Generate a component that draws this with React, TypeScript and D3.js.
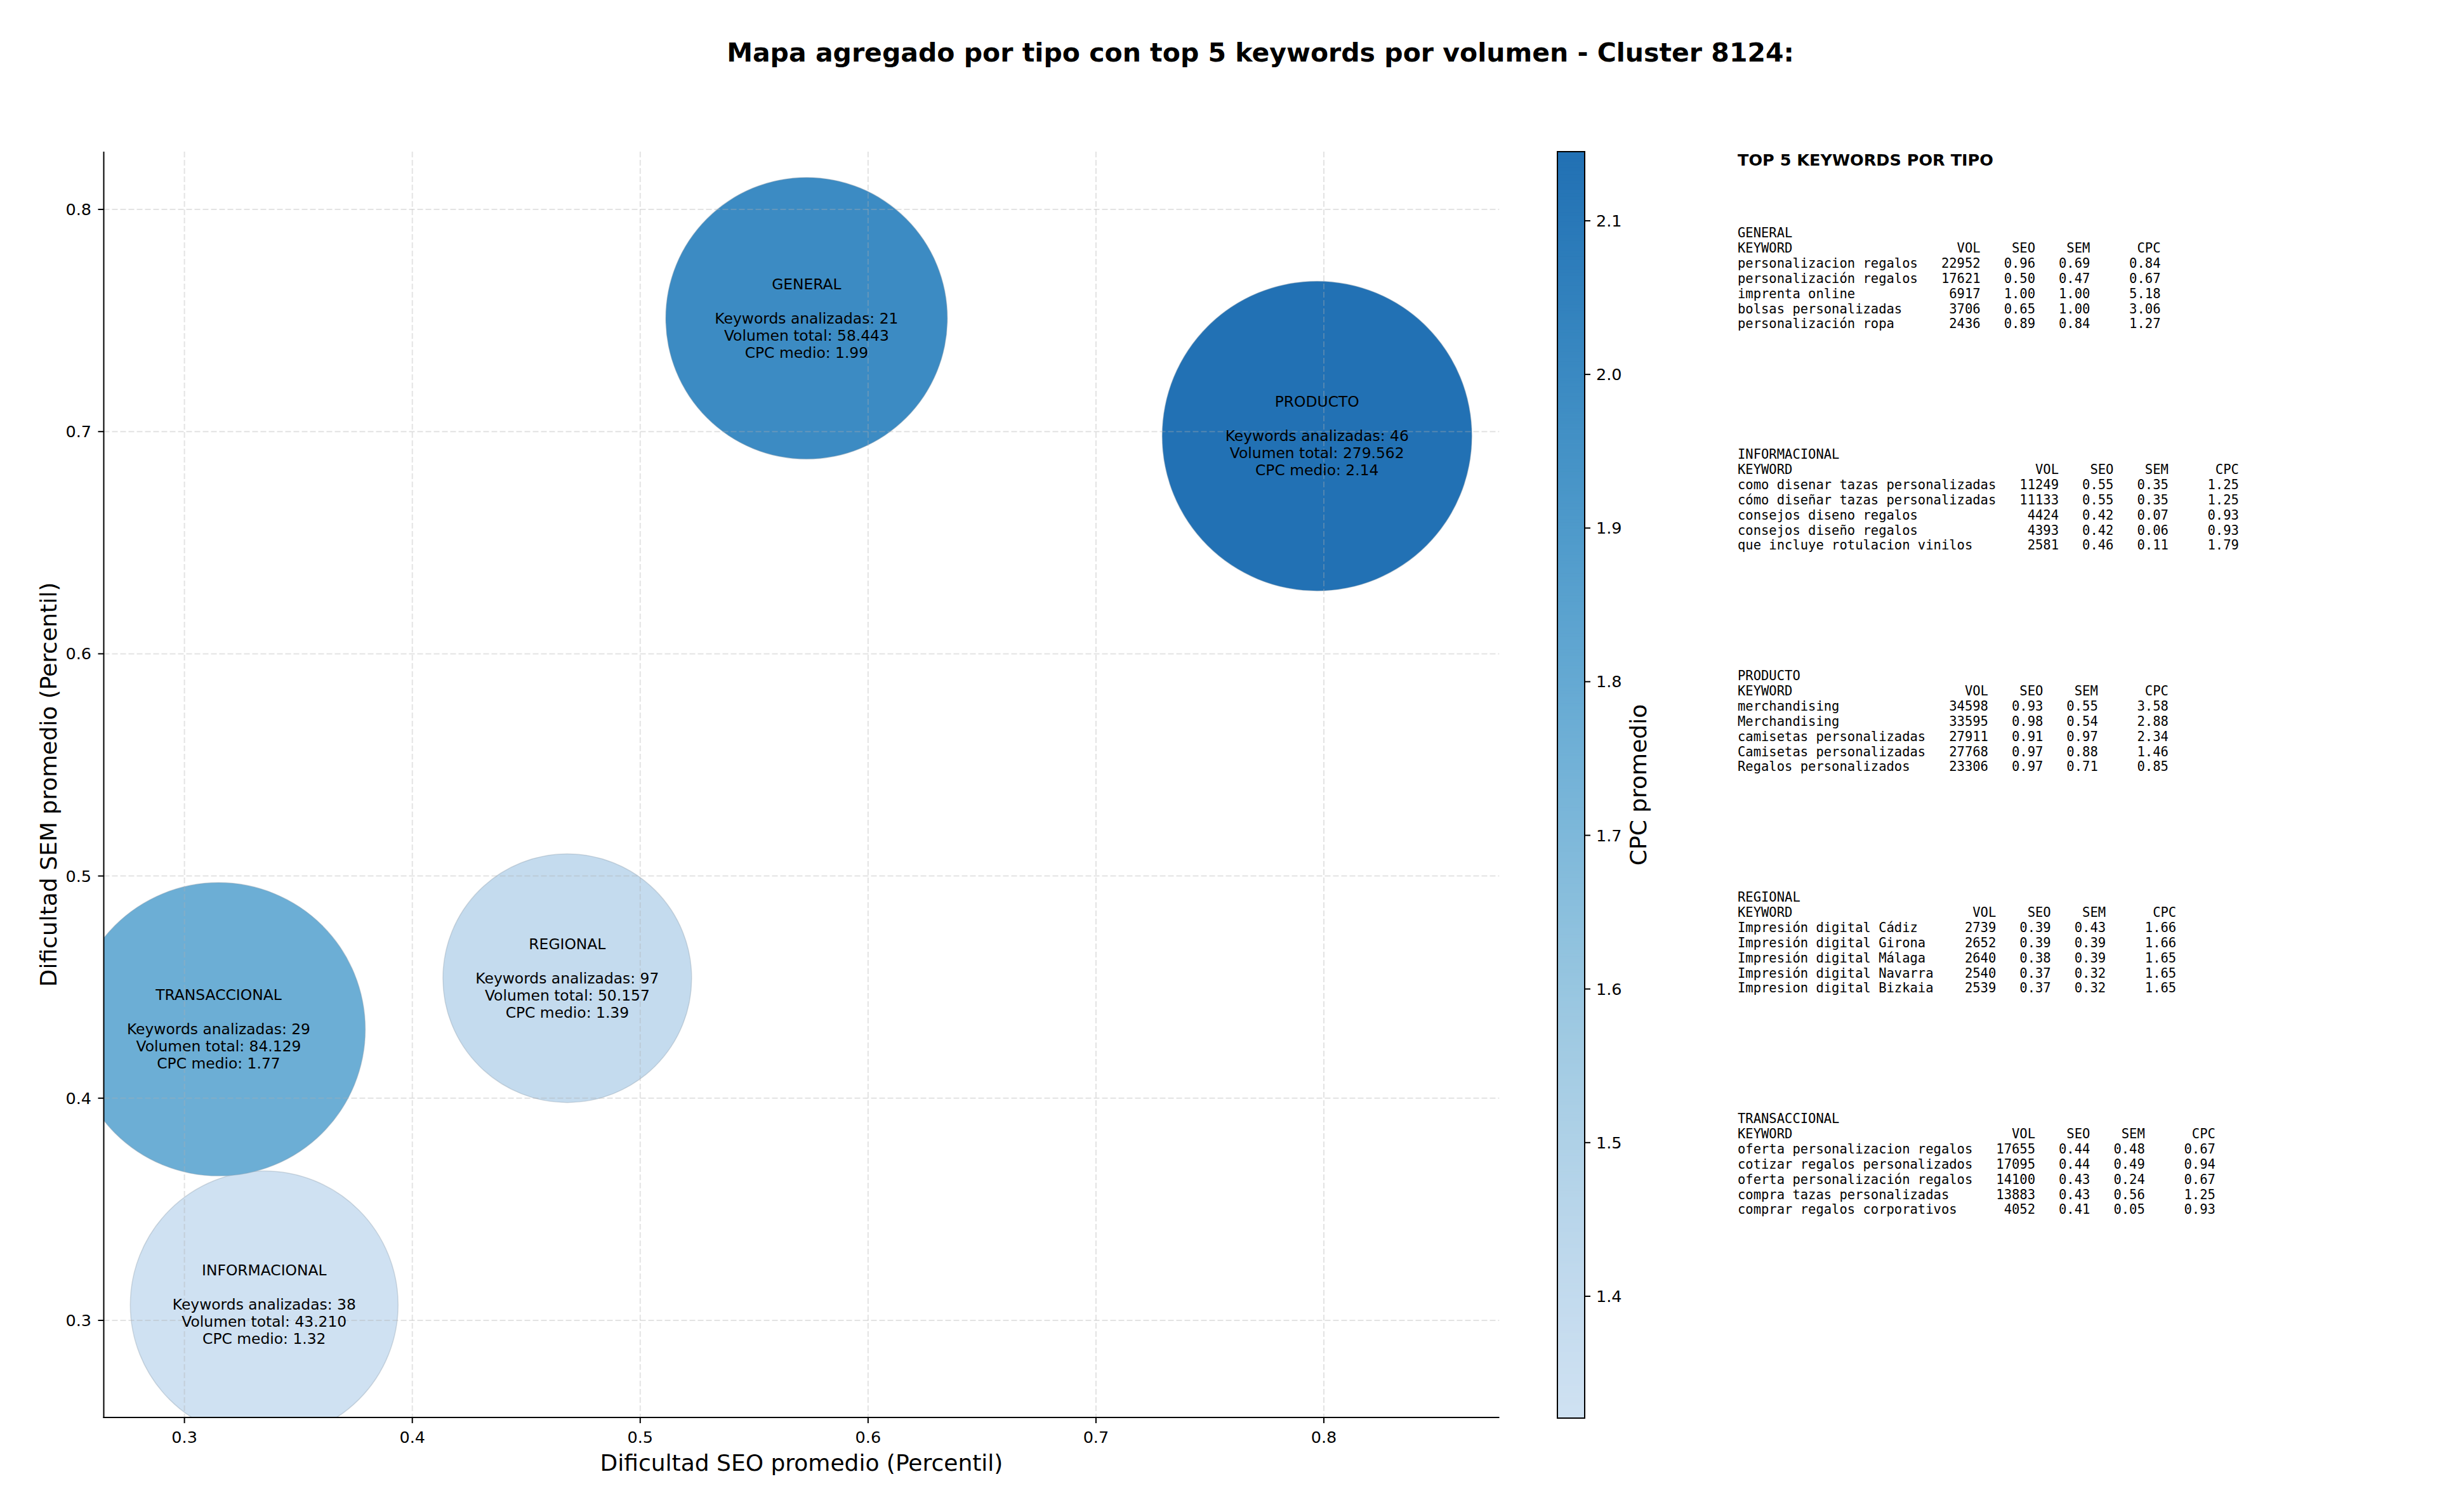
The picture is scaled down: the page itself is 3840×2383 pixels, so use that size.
import React from 'react';
import * as d3 from 'd3';

const W = 3840;
const H = 2383;

// ---- aggregated data per type ----
const tipos = ['GENERAL', 'INFORMACIONAL', 'PRODUCTO', 'REGIONAL', 'TRANSACCIONAL'];
const seoPromedio = [0.573, 0.335, 0.797, 0.468, 0.315];
const semPromedio = [0.751, 0.307, 0.698, 0.454, 0.431];
const keywordsAnalizadas = [21, 38, 46, 97, 29];
const volumenTotal = [58443, 43210, 279562, 50157, 84129];
const cpcMedio = [1.99, 1.32, 2.14, 1.39, 1.77];
const bubbleSize = [17700, 16000, 21400, 13800, 19200];

const xTicks = [0.3, 0.4, 0.5, 0.6, 0.7, 0.8];
const yTicks = [0.3, 0.4, 0.5, 0.6, 0.7, 0.8];
const cbTicks = [1.4, 1.5, 1.6, 1.7, 1.8, 1.9, 2.0, 2.1];

// ---- top 5 keywords per type: [keyword, vol, seo, sem, cpc] ----
type Row = [string, number, number, number, number];
const topGeneral: Row[] = [
  ['personalizacion regalos', 22952, 0.96, 0.69, 0.84],
  ['personalización regalos', 17621, 0.5, 0.47, 0.67],
  ['imprenta online', 6917, 1.0, 1.0, 5.18],
  ['bolsas personalizadas', 3706, 0.65, 1.0, 3.06],
  ['personalización ropa', 2436, 0.89, 0.84, 1.27],
];
const topInformacional: Row[] = [
  ['como disenar tazas personalizadas', 11249, 0.55, 0.35, 1.25],
  ['cómo diseñar tazas personalizadas', 11133, 0.55, 0.35, 1.25],
  ['consejos diseno regalos', 4424, 0.42, 0.07, 0.93],
  ['consejos diseño regalos', 4393, 0.42, 0.06, 0.93],
  ['que incluye rotulacion vinilos', 2581, 0.46, 0.11, 1.79],
];
const topProducto: Row[] = [
  ['merchandising', 34598, 0.93, 0.55, 3.58],
  ['Merchandising', 33595, 0.98, 0.54, 2.88],
  ['camisetas personalizadas', 27911, 0.91, 0.97, 2.34],
  ['Camisetas personalizadas', 27768, 0.97, 0.88, 1.46],
  ['Regalos personalizados', 23306, 0.97, 0.71, 0.85],
];
const topRegional: Row[] = [
  ['Impresión digital Cádiz', 2739, 0.39, 0.43, 1.66],
  ['Impresión digital Girona', 2652, 0.39, 0.39, 1.66],
  ['Impresión digital Málaga', 2640, 0.38, 0.39, 1.65],
  ['Impresión digital Navarra', 2540, 0.37, 0.32, 1.65],
  ['Impresion digital Bizkaia', 2539, 0.37, 0.32, 1.65],
];
const topTransaccional: Row[] = [
  ['oferta personalizacion regalos', 17655, 0.44, 0.48, 0.67],
  ['cotizar regalos personalizados', 17095, 0.44, 0.49, 0.94],
  ['oferta personalización regalos', 14100, 0.43, 0.24, 0.67],
  ['compra tazas personalizadas', 13883, 0.43, 0.56, 1.25],
  ['comprar regalos corporativos', 4052, 0.41, 0.05, 0.93],
];
const topTables = [topGeneral, topInformacional, topProducto, topRegional, topTransaccional];

// ---- layout ----
const plotL = 163.5, plotR = 2362.5, plotT = 239, plotB = 2234;
const cbL = 2454, cbR = 2497, cbT = 239, cbB = 2235;
const SANS = "'DejaVu Sans', sans-serif";
const MONO = "'DejaVu Sans Mono', monospace";

const x = d3.scaleLinear().domain([0.2646, 0.877]).range([plotL, plotR]);
const y = d3.scaleLinear().domain([0.2563, 0.826]).range([plotB, plotT]);
const r = d3.scaleSqrt().domain([0, 21400]).range([0, 244]);
const cpcExtent = d3.extent(cpcMedio) as [number, number];
const color = d3.scaleSequential((t: number) => d3.interpolateBlues(0.2 + 0.55 * t)).domain(cpcExtent);
const cbScale = d3.scaleLinear().domain([1.3207, 2.145]).range([cbB, cbT]);

const fmtVol = (v: number) => d3.format(',')(v).replace(/,/g, '.');

function tableLines(name: string, rows: Row[]): string[] {
  const w = d3.max(rows, (d) => d[0].length) as number;
  const header = 'KEYWORD'.padEnd(w) + 'VOL'.padStart(8) + 'SEO'.padStart(7) + 'SEM'.padStart(7) + 'CPC'.padStart(9);
  const body = rows.map(
    (d) =>
      d[0].padEnd(w) +
      String(d[1]).padStart(8) +
      d[2].toFixed(2).padStart(7) +
      d[3].toFixed(2).padStart(7) +
      d[4].toFixed(2).padStart(9)
  );
  return [name, header, ...body];
}

export default function App() {
  const cbSteps = d3.range(0, 400).map((i) => {
    const [d0, d1] = cbScale.domain();
    const v0 = d0 + ((d1 - d0) * i) / 400;
    const v1 = d0 + ((d1 - d0) * (i + 1)) / 400;
    return { v0, v1 };
  });
  const bubbleLH = 27;
  const tableLH = 23.9;
  const tableX = 2738;
  const tableY0 = 367;
  const tableStep = 349;

  return (
    <svg
      width={W}
      height={H}
      viewBox={`0 0 ${W} ${H}`}
      style={{ display: 'block', background: '#fff', position: 'absolute', left: 0, top: 0 }}
    >
      <defs>
        <clipPath id="plotclip">
          <rect x={plotL} y={plotT} width={plotR - plotL} height={plotB - plotT} />
        </clipPath>
      </defs>
      <rect x={0} y={0} width={W} height={H} fill="#fff" />

      {/* title */}
      <text x={1986} y={83} textAnchor="middle" dominantBaseline="central" fontFamily={SANS} fontWeight="bold" fontSize={41}>
        Mapa agregado por tipo con top 5 keywords por volumen - Cluster 8124:
      </text>

      {/* bubbles */}
      <g clipPath="url(#plotclip)">
        {tipos.map((t, i) => (
          <circle
            key={t}
            cx={x(seoPromedio[i])}
            cy={y(semPromedio[i])}
            r={r(bubbleSize[i])}
            fill={color(cpcMedio[i])}
            stroke="#8a9aaa"
            strokeOpacity={0.35}
            strokeWidth={1.5}
          />
        ))}
        {/* grid on top (matplotlib axisbelow='line') */}
        {xTicks.map((t) => (
          <line key={'gx' + t} x1={x(t)} x2={x(t)} y1={plotT} y2={plotB} stroke="#b0b0b0" strokeOpacity={0.35} strokeWidth={2} strokeDasharray="9,4" />
        ))}
        {yTicks.map((t) => (
          <line key={'gy' + t} x1={plotL} x2={plotR} y1={y(t)} y2={y(t)} stroke="#b0b0b0" strokeOpacity={0.35} strokeWidth={2} strokeDasharray="9,4" />
        ))}
      </g>

      {/* bubble labels */}
      {tipos.map((t, i) => {
        const lines = [t, '', `Keywords analizadas: ${keywordsAnalizadas[i]}`, `Volumen total: ${fmtVol(volumenTotal[i])}`, `CPC medio: ${cpcMedio[i].toFixed(2)}`];
        const cx = x(seoPromedio[i]);
        const cy = y(semPromedio[i]);
        return (
          <g key={'lab' + t}>
            {lines.map((l, j) => (
              <text key={j} x={cx} y={cy + (j - 2) * bubbleLH} textAnchor="middle" dominantBaseline="central" fontFamily={SANS} fontSize={23.4} fill="#000">
                {l}
              </text>
            ))}
          </g>
        );
      })}

      {/* axes spines */}
      <line x1={plotL} x2={plotL} y1={plotT} y2={plotB + 1} stroke="#000" strokeWidth={2} />
      <line x1={plotL - 1} x2={plotR} y1={plotB} y2={plotB} stroke="#000" strokeWidth={2} />

      {/* x ticks */}
      {xTicks.map((t) => (
        <g key={'xt' + t}>
          <line x1={x(t)} x2={x(t)} y1={plotB} y2={plotB + 9} stroke="#000" strokeWidth={2} />
          <text x={x(t)} y={2265} textAnchor="middle" dominantBaseline="central" fontFamily={SANS} fontSize={25.5}>
            {t.toFixed(1)}
          </text>
        </g>
      ))}
      {/* y ticks */}
      {yTicks.map((t) => (
        <g key={'yt' + t}>
          <line x1={plotL - 9} x2={plotL} y1={y(t)} y2={y(t)} stroke="#000" strokeWidth={2} />
          <text x={144} y={y(t)} textAnchor="end" dominantBaseline="central" fontFamily={SANS} fontSize={25.5}>
            {t.toFixed(1)}
          </text>
        </g>
      ))}

      {/* axis labels */}
      <text x={(plotL + plotR) / 2} y={2305} textAnchor="middle" dominantBaseline="central" fontFamily={SANS} fontSize={36}>
        Dificultad SEO promedio (Percentil)
      </text>
      <text
        transform={`translate(76, ${(plotT + plotB) / 2}) rotate(-90)`}
        textAnchor="middle"
        dominantBaseline="central"
        fontFamily={SANS}
        fontSize={36}
      >
        Dificultad SEM promedio (Percentil)
      </text>

      {/* colorbar */}
      {cbSteps.map((s, i) => (
        <rect
          key={'cb' + i}
          x={cbL}
          y={cbScale(s.v1)}
          width={cbR - cbL}
          height={Math.abs(cbScale(s.v0) - cbScale(s.v1)) + 0.8}
          fill={color(Math.min(Math.max((s.v0 + s.v1) / 2, cpcExtent[0]), cpcExtent[1]))}
        />
      ))}
      <rect x={cbL} y={cbT} width={cbR - cbL} height={cbB - cbT} fill="none" stroke="#000" strokeWidth={2} />
      {cbTicks.map((t) => (
        <g key={'cbt' + t}>
          <line x1={cbR} x2={cbR + 9} y1={cbScale(t)} y2={cbScale(t)} stroke="#000" strokeWidth={2} />
          <text x={2515} y={cbScale(t)} dominantBaseline="central" fontFamily={SANS} fontSize={25.5}>
            {t.toFixed(1)}
          </text>
        </g>
      ))}
      <text
        transform={`translate(2581, ${(cbT + cbB) / 2}) rotate(-90)`}
        textAnchor="middle"
        dominantBaseline="central"
        fontFamily={SANS}
        fontSize={36}
      >
        CPC promedio
      </text>

      {/* text panel */}
      <text x={tableX} y={252} dominantBaseline="central" fontFamily={SANS} fontWeight="bold" fontSize={25.5}>
        TOP 5 KEYWORDS POR TIPO
      </text>
      {tipos.map((t, i) => {
        const lines = tableLines(t, topTables[i]);
        return (
          <g key={'tbl' + t}>
            {lines.map((l, j) => (
              <text
                key={j}
                x={tableX}
                y={tableY0 + i * tableStep + j * tableLH}
                dominantBaseline="central"
                fontFamily={MONO}
                fontSize={20.5}
                xmlSpace="preserve"
                style={{ whiteSpace: 'pre' }}
              >
                {l}
              </text>
            ))}
          </g>
        );
      })}
    </svg>
  );
}
